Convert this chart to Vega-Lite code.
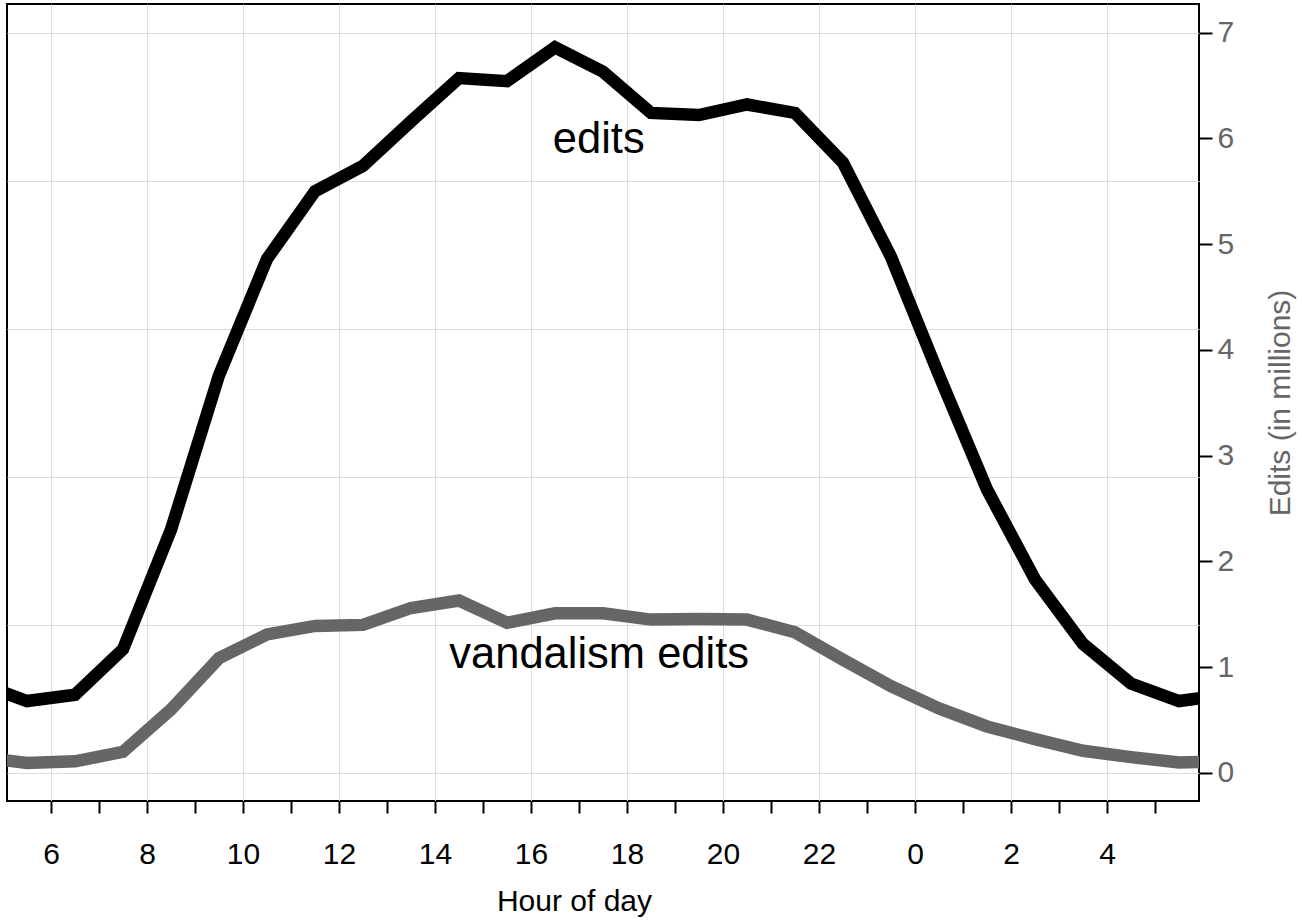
{
  "$schema": "https://vega.github.io/schema/vega-lite/v6.json",
  "width": 1192,
  "height": 797,
  "autosize": {"type": "none"},
  "padding": {"left": 7, "top": 4, "right": 103, "bottom": 121},
  "background": "white",
  "config": {
    "font": "Liberation Sans",
    "view": {"stroke": "black", "strokeWidth": 2}
  },
  "resolve": {"axis": {"y": "independent"}},
  "layer": [
    {
      "data": {
        "values": [
          {"hour": 4.5, "series": "edits", "value": 0.845},
          {"hour": 5.5, "series": "edits", "value": 0.68},
          {"hour": 6.5, "series": "edits", "value": 0.74},
          {"hour": 7.5, "series": "edits", "value": 1.17},
          {"hour": 8.5, "series": "edits", "value": 2.3},
          {"hour": 9.5, "series": "edits", "value": 3.76},
          {"hour": 10.5, "series": "edits", "value": 4.86},
          {"hour": 11.5, "series": "edits", "value": 5.5},
          {"hour": 12.5, "series": "edits", "value": 5.74},
          {"hour": 13.5, "series": "edits", "value": 6.16},
          {"hour": 14.5, "series": "edits", "value": 6.57},
          {"hour": 15.5, "series": "edits", "value": 6.54},
          {"hour": 16.5, "series": "edits", "value": 6.86},
          {"hour": 17.5, "series": "edits", "value": 6.63},
          {"hour": 18.5, "series": "edits", "value": 6.24},
          {"hour": 19.5, "series": "edits", "value": 6.22},
          {"hour": 20.5, "series": "edits", "value": 6.32},
          {"hour": 21.5, "series": "edits", "value": 6.24},
          {"hour": 22.5, "series": "edits", "value": 5.77},
          {"hour": 23.5, "series": "edits", "value": 4.88},
          {"hour": 24.5, "series": "edits", "value": 3.76},
          {"hour": 25.5, "series": "edits", "value": 2.68},
          {"hour": 26.5, "series": "edits", "value": 1.83},
          {"hour": 27.5, "series": "edits", "value": 1.22},
          {"hour": 28.5, "series": "edits", "value": 0.845},
          {"hour": 29.5, "series": "edits", "value": 0.68},
          {"hour": 30.5, "series": "edits", "value": 0.74},
          {"hour": 4.5, "series": "vandalism", "value": 0.15},
          {"hour": 5.5, "series": "vandalism", "value": 0.095},
          {"hour": 6.5, "series": "vandalism", "value": 0.11},
          {"hour": 7.5, "series": "vandalism", "value": 0.2},
          {"hour": 8.5, "series": "vandalism", "value": 0.6},
          {"hour": 9.5, "series": "vandalism", "value": 1.085},
          {"hour": 10.5, "series": "vandalism", "value": 1.31},
          {"hour": 11.5, "series": "vandalism", "value": 1.39},
          {"hour": 12.5, "series": "vandalism", "value": 1.4},
          {"hour": 13.5, "series": "vandalism", "value": 1.56},
          {"hour": 14.5, "series": "vandalism", "value": 1.63},
          {"hour": 15.5, "series": "vandalism", "value": 1.42},
          {"hour": 16.5, "series": "vandalism", "value": 1.51},
          {"hour": 17.5, "series": "vandalism", "value": 1.51},
          {"hour": 18.5, "series": "vandalism", "value": 1.45},
          {"hour": 19.5, "series": "vandalism", "value": 1.455},
          {"hour": 20.5, "series": "vandalism", "value": 1.45},
          {"hour": 21.5, "series": "vandalism", "value": 1.33},
          {"hour": 22.5, "series": "vandalism", "value": 1.07},
          {"hour": 23.5, "series": "vandalism", "value": 0.82},
          {"hour": 24.5, "series": "vandalism", "value": 0.61},
          {"hour": 25.5, "series": "vandalism", "value": 0.44},
          {"hour": 26.5, "series": "vandalism", "value": 0.32},
          {"hour": 27.5, "series": "vandalism", "value": 0.21},
          {"hour": 28.5, "series": "vandalism", "value": 0.15},
          {"hour": 29.5, "series": "vandalism", "value": 0.1},
          {"hour": 30.5, "series": "vandalism", "value": 0.11}
        ]
      },
      "mark": {"type": "line", "clip": true, "strokeWidth": 12.5, "strokeJoin": "miter", "strokeCap": "butt"},
      "encoding": {
        "x": {
          "field": "hour",
          "type": "quantitative",
          "scale": {"domain": [5.0833, 29.9167], "nice": false, "zero": false},
          "axis": {
            "orient": "bottom",
            "values": [6,7,8,9,10,11,12,13,14,15,16,17,18,19,20,21,22,23,24,25,26,27,28,29],
            "domain": false,
            "tickSize": 12,
            "tickWidth": 2,
            "tickColor": "black",
            "labelExpr": "datum.value % 2 == 0 ? '' + (datum.value % 24) : ''",
            "labelFontSize": 30,
            "labelColor": "black",
            "labelPadding": 26,
            "labelFlush": false,
            "labelOverlap": false,
            "grid": true,
            "gridColor": "#dddddd",
            "gridWidth": 1,
            "gridOpacity": {"condition": {"test": "datum.value % 2 == 0", "value": 1}, "value": 0},
            "title": "Hour of day",
            "titleFontSize": 30,
            "titleFontWeight": "normal",
            "titleColor": "black",
            "titleX": 567,
            "titleY": 109,
            "titleBaseline": "alphabetic",
            "titleAlign": "center"
          }
        },
        "y": {
          "field": "value",
          "type": "quantitative",
          "scale": {"domain": [-0.265, 7.27], "nice": false, "zero": false},
          "axis": {
            "orient": "right",
            "values": [0,1,2,3,4,5,6,7],
            "domain": false,
            "grid": false,
            "tickSize": 13,
            "tickWidth": 2,
            "tickColor": "black",
            "labelFontSize": 30,
            "labelColor": "#666666",
            "labelPadding": 5,
            "title": "Edits (in millions)",
            "titleColor": "#666666",
            "titleFontSize": 30,
            "titleFontWeight": "normal",
            "titleAngle": 270,
            "titleX": 90,
            "titleY": 398.5,
            "titleBaseline": "alphabetic",
            "titleAlign": "center"
          }
        },
        "color": {
          "field": "series",
          "type": "nominal",
          "scale": {"domain": ["edits", "vandalism"], "range": ["#000000", "#666666"]},
          "legend": null
        }
      }
    },
    {
      "data": {
        "values": [
          {"hour": 17.41, "value": 5.862, "label": "edits"},
          {"hour": 17.42, "value": 0.993, "label": "vandalism edits"}
        ]
      },
      "mark": {"type": "text", "fontSize": 43.5, "color": "black", "align": "center", "baseline": "alphabetic"},
      "encoding": {
        "x": {"field": "hour", "type": "quantitative"},
        "y": {
          "field": "value",
          "type": "quantitative",
          "axis": {
            "orient": "left",
            "values": [0, 1.4, 2.8, 4.2, 5.6, 7],
            "grid": true,
            "gridColor": "#dddddd",
            "gridWidth": 1,
            "labels": false,
            "ticks": false,
            "domain": false,
            "title": null
          }
        },
        "text": {"field": "label", "type": "nominal"}
      }
    }
  ]
}
